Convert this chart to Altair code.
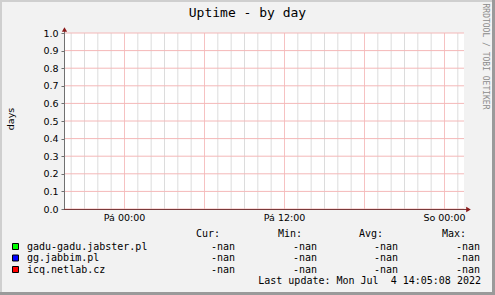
import altair as alt
import pandas as pd

# ---- content ----
chart_title = "Uptime - by day"
y_title = "days"
watermark = "RRDTOOL / TOBI OETIKER"

# x axis in hours relative to "Pá 00:00"
x_domain = [-4.5375, 25.4625]
x_label_hours = [0, 12, 24]
x_label_texts = ["Pá 00:00", "Pá 12:00", "So 00:00"]
major_hours = [0, 6, 12, 18, 24]
minor_hours = [h for h in range(-4, 26) if h % 6 != 0]

y_domain = [0, 1]
y_ticks = [0.0, 0.1, 0.2, 0.3, 0.4, 0.5, 0.6, 0.7, 0.8, 0.9, 1.0]

series = ["gadu-gadu.jabster.pl", "gg.jabbim.pl", "icq.netlab.cz"]
series_colors = ["#00FF00", "#0000FF", "#FF0000"]
stat_headers = ["Cur:", "Min:", "Avg:", "Max:"]
cur_vals = ["-nan", "-nan", "-nan"]
min_vals = ["-nan", "-nan", "-nan"]
avg_vals = ["-nan", "-nan", "-nan"]
max_vals = ["-nan", "-nan", "-nan"]
last_update = "Last update: Mon Jul \u00a04 14:05:08 2022"

# ---- layout (pixels relative to plot origin) ----
W, H = 400, 176
PAD = {"left": 64, "top": 33, "right": 31, "bottom": 86}
MONO = "DejaVu Sans Mono"
SANS = "DejaVu Sans"

xscale = alt.Scale(domain=x_domain, nice=False, zero=False)
yscale = alt.Scale(domain=y_domain, nice=False)

one = pd.DataFrame({"d": [0]})

layers = []

# minor vertical grid
layers.append(
    alt.Chart(pd.DataFrame({"h": minor_hours})).mark_rule(
        stroke="#DCDCDC", strokeWidth=1, strokeOpacity=1
    ).encode(x=alt.X("h:Q", scale=xscale, axis=None))
)
# major vertical grid
layers.append(
    alt.Chart(pd.DataFrame({"h": major_hours})).mark_rule(
        stroke="#F6C2C2", strokeWidth=1, strokeOpacity=1
    ).encode(x=alt.X("h:Q", scale=xscale, axis=None))
)
# horizontal grid (carries the y axis)
layers.append(
    alt.Chart(pd.DataFrame({"v": y_ticks})).mark_rule(
        stroke="#F4B8B8", strokeWidth=1, strokeOpacity=1
    ).encode(
        y=alt.Y("v:Q", scale=yscale, axis=alt.Axis(
            values=y_ticks, format=".1f", tickSize=3, tickColor="#707070",
            domain=False, grid=False, title=None, labelFont=SANS,
            labelFontSize=9.5, labelColor="#000000", labelPadding=3)),
    )
)
# x tick labels through the x scale
layers.append(
    alt.Chart(pd.DataFrame({"h": x_label_hours, "lab": x_label_texts})).mark_text(
        font=SANS, fontSize=9.5, color="#000000", baseline="middle", align="center"
    ).encode(x=alt.X("h:Q", scale=xscale, axis=None), text="lab:N", y=alt.value(H + 8.5))
)

# axis lines
layers.append(alt.Chart(one).mark_rule(stroke="#707070", strokeWidth=1).encode(
    x=alt.value(0.5), y=alt.value(-4), y2=alt.value(H)))
layers.append(alt.Chart(one).mark_rule(stroke="#7A3A3A", strokeWidth=1).encode(
    x=alt.value(0), x2=alt.value(W + 4), y=alt.value(H + 0.5), y2=alt.value(H + 0.5)))
# arrows
layers.append(alt.Chart(one).mark_point(shape="triangle-up", filled=True, size=28,
                                        color="#8B1A1A", opacity=1).encode(
    x=alt.value(0.5), y=alt.value(-3.5)))
layers.append(alt.Chart(one).mark_point(shape="triangle-right", filled=True, size=28,
                                        color="#8B1A1A", opacity=1).encode(
    x=alt.value(W + 4.5), y=alt.value(H + 0.5)))

def text(t, x, y, **kw):
    props = dict(font=MONO, fontSize=10, color="#000000", baseline="middle", align="left")
    props.update(kw)
    return alt.Chart(pd.DataFrame({"t": [t]})).mark_text(**props).encode(
        text="t:N", x=alt.value(x), y=alt.value(y))

# titles
layers.append(text(chart_title, 183.5, -16, fontSize=13, align="center", baseline="alphabetic"))
layers.append(text(y_title, -53, 86, font=SANS, fontSize=9.5, align="center", angle=270))
layers.append(text(watermark, 421, 23.5, fontSize=8, color="#8C8C8C", align="center", angle=90))

# legend
header_y = 201
row_ys = [213.5, 225, 236.5]
header_right = [156, 238, 319, 402]
value_right = [171, 253, 334, 416]
for hx, ht in zip(header_right, stat_headers):
    layers.append(text(ht, hx, header_y, align="right"))
for i, name in enumerate(series):
    ry = row_ys[i]
    layers.append(alt.Chart(one).mark_square(size=36, filled=True, color=series_colors[i],
                                             stroke="#000000", strokeWidth=1, opacity=1).encode(
        x=alt.value(-48.5), y=alt.value(ry)))
    layers.append(text(name, -37, ry))
    for vx, vals in zip(value_right, [cur_vals, min_vals, avg_vals, max_vals]):
        layers.append(text(vals[i], vx, ry, align="right"))
layers.append(text(last_update, 417, 248, align="right"))

# 3D frame
def band(x1, x2, y1, y2, c):
    return alt.Chart(one).mark_rect(color=c, opacity=1).encode(
        x=alt.value(x1), x2=alt.value(x2), y=alt.value(y1), y2=alt.value(y2))

layers.append(band(-64, 431, -33, -31, "#CFCFCF"))
layers.append(band(-64, -62, -33, 262, "#CFCFCF"))
layers.append(band(428, 431, -33, 262, "#9A9A9A"))
layers.append(band(-64, 431, 259, 262, "#9A9A9A"))

chart = alt.layer(*layers).properties(
    width=W, height=H,
    background="#F2F2F2",
    padding=PAD,
    autosize=alt.AutoSizeParams(type="none"),
).configure_view(fill="#FFFFFF", stroke=None)

chart.save("out.html", embed_options={"renderer": "svg", "actions": False})
